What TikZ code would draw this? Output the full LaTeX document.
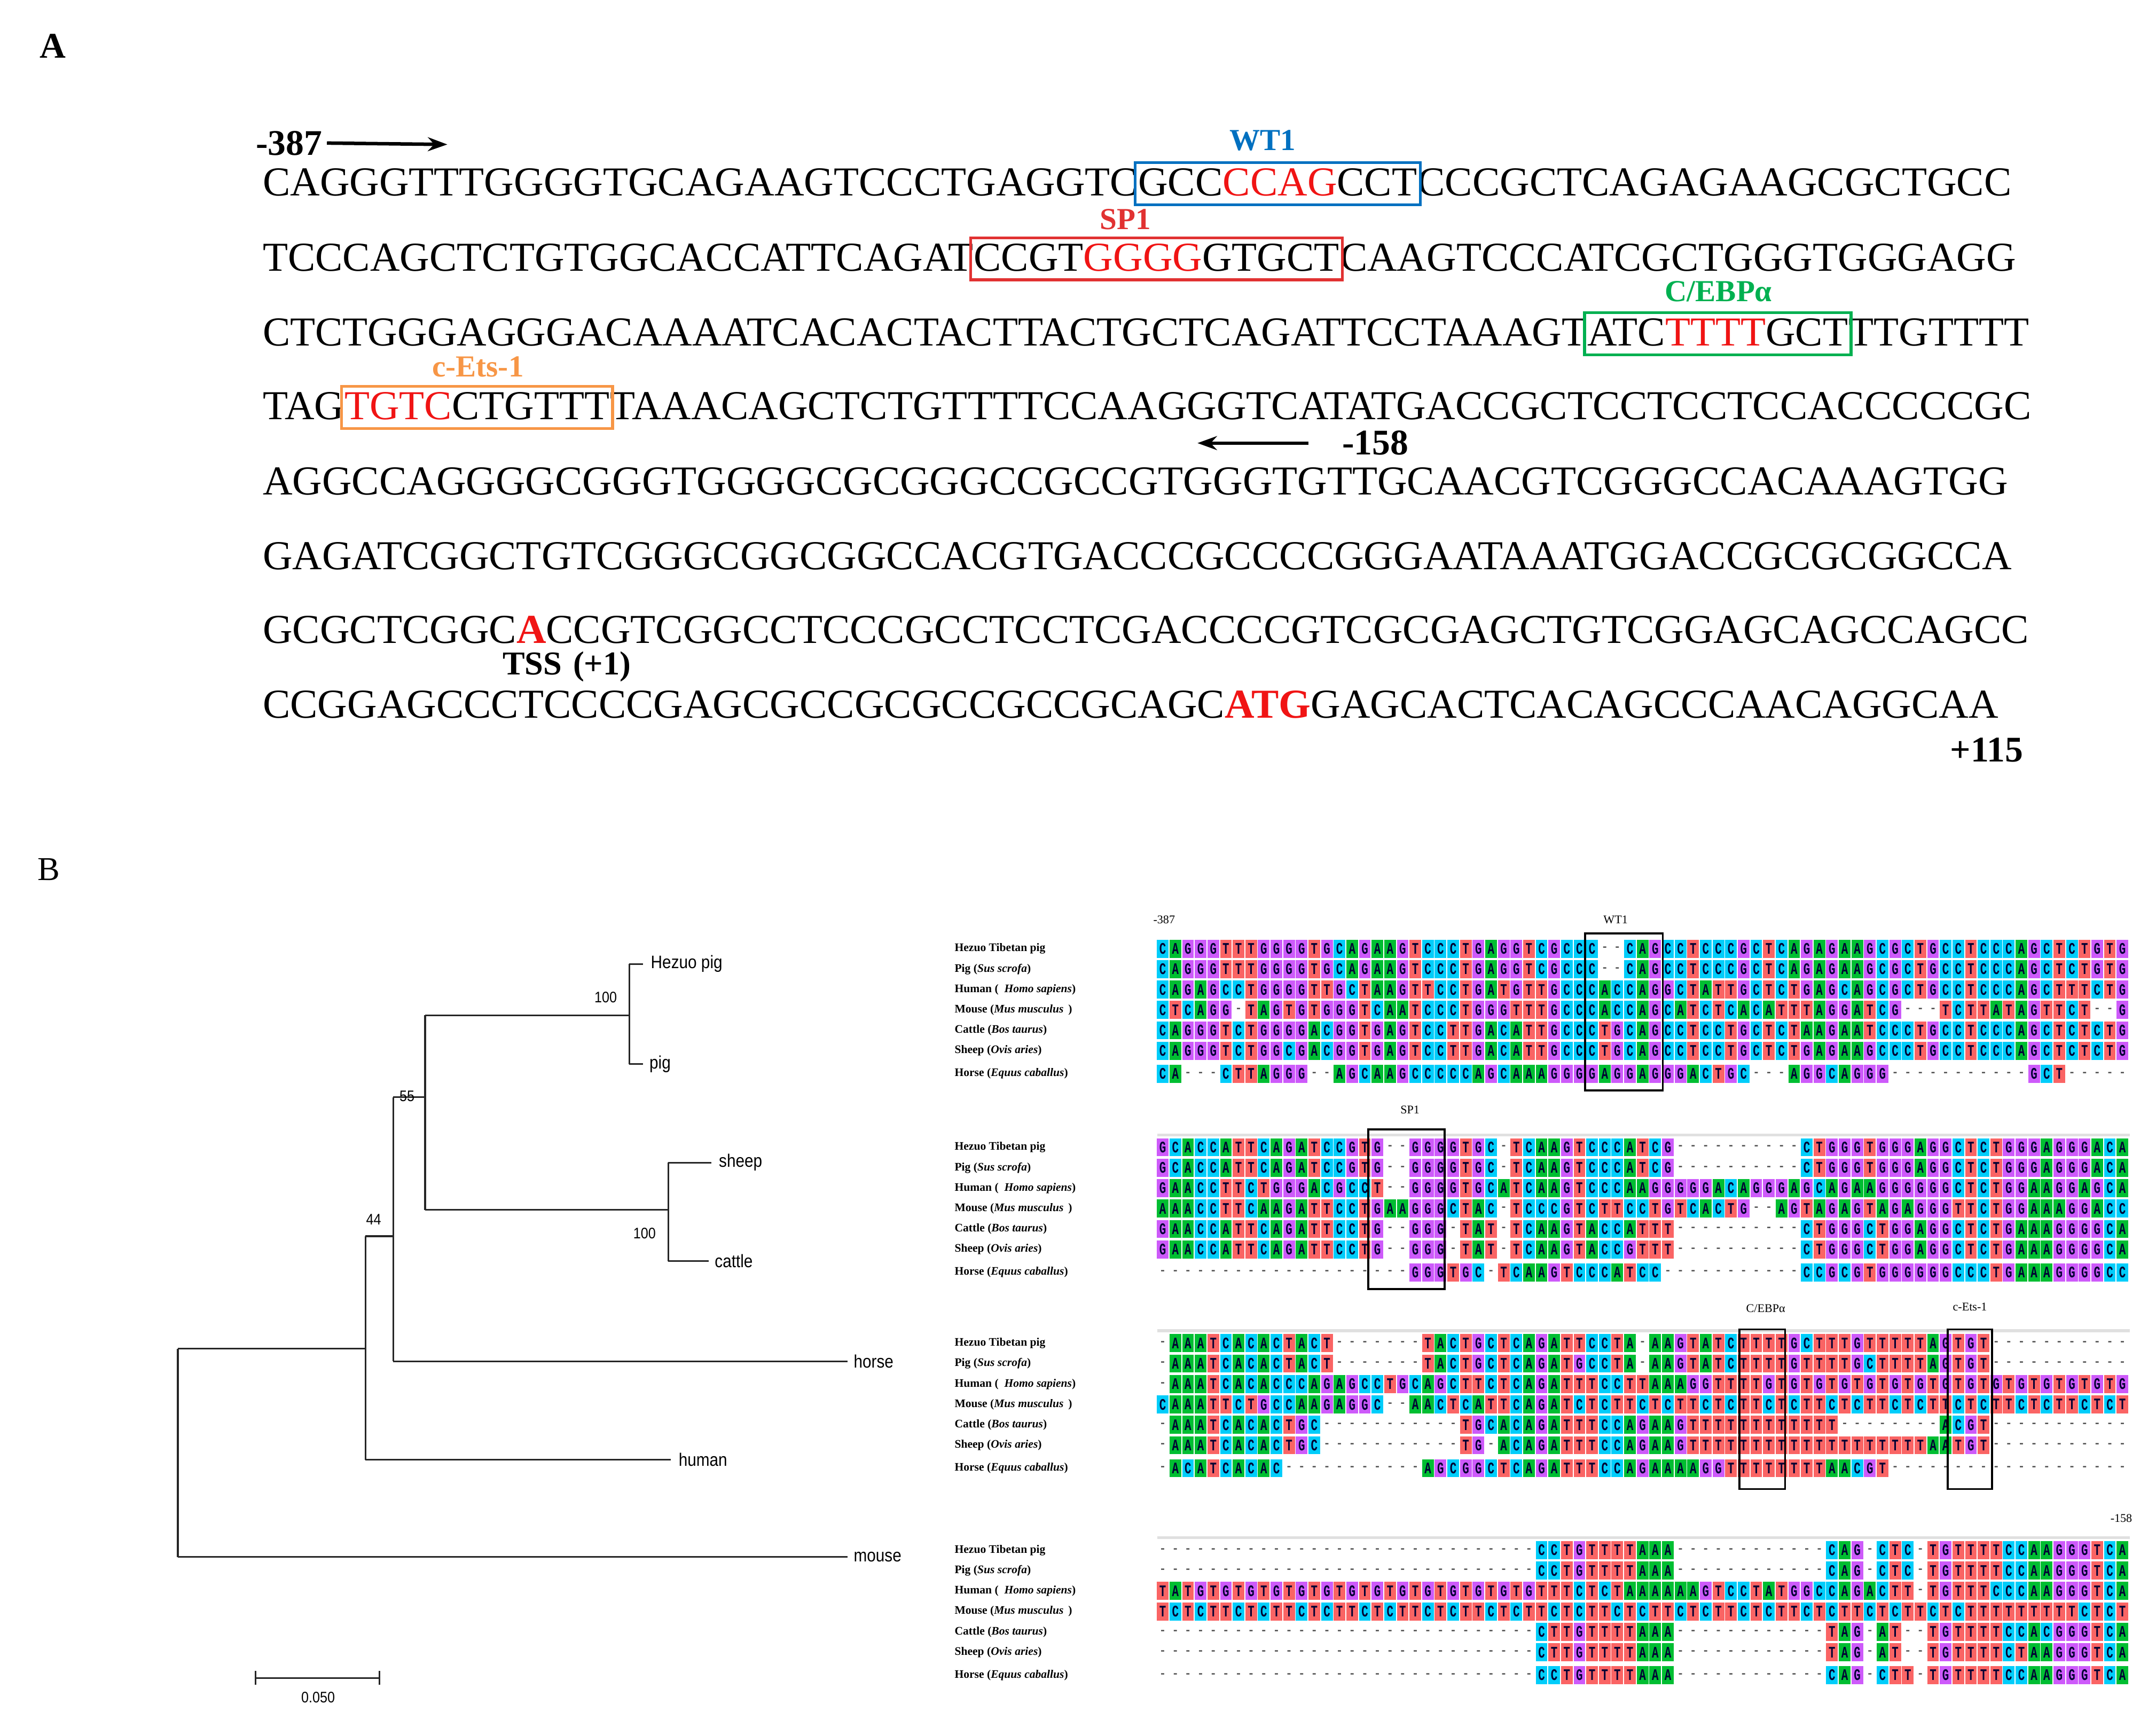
\documentclass[tikz,border=0pt]{standalone}
\usepackage{fontspec}
\setmainfont{Liberation Serif}
\newfontfamily\sansf{Liberation Sans}
\newfontfamily\monof{Liberation Mono}
\usetikzlibrary{calc,arrows.meta}
\definecolor{cA}{RGB}{0,190,50}
\definecolor{cC}{RGB}{0,205,250}
\definecolor{cG}{RGB}{205,90,250}
\definecolor{cT}{RGB}{250,100,100}
\definecolor{wtc}{RGB}{0,112,192}
\definecolor{spc}{RGB}{225,50,50}
\definecolor{cec}{RGB}{0,176,80}
\definecolor{etc}{RGB}{247,150,70}
\definecolor{redA}{RGB}{240,20,20}
\newcount\alncnt
\def\alnloop#1{\ifx#1\relax\else\alncell{#1}\advance\alncnt by 1 \expandafter\alnloop\fi}
\newcommand\alnrow[3]{\def\ax{#1}\def\ay{#2}\alncnt=0 \alnloop#3\relax}
\newcommand\alncell[1]{%
 \pgfmathsetmacro\cx{\ax+\the\alncnt*9.09}%
 \if#1-\node[gapch] at (\cx,\ay) {-};%
 \else\fill[c#1] (\cx-4.2,\ay-6.5) rectangle (\cx+4.2,\ay+6.5);\node[basech] at (\cx,\ay) {#1};\fi}
\begin{document}
\begin{tikzpicture}[x=1pt,y=1pt,
 seq/.style={font=\fontsize{29.6}{30}\selectfont, inner sep=0pt, anchor=base west},
 boxl/.style={line width=2pt},
 tflab/.style={font=\fontsize{22}{24}\selectfont\bfseries},
 bold/.style={font=\fontsize{26}{28}\selectfont\bfseries},
 basech/.style={inner sep=0pt, font=\monof\bfseries\fontsize{8}{8}\selectfont, text=black!80!blue, yscale=1.45},
 gapch/.style={inner sep=0pt, font=\monof\bfseries\fontsize{8}{8}\selectfont, text=black!70},
 rowlab/.style={inner sep=0pt, anchor=west, font=\fontsize{8.3}{9}\selectfont\bfseries},
 alab/.style={inner sep=0pt, font=\fontsize{8.5}{9}\selectfont},
 abox/.style={line width=1.4pt},
 tree/.style={line width=1.2pt, draw=black!85},
 tlab/.style={inner sep=0pt, anchor=west, font=\sansf\fontsize{13}{14}\selectfont, xscale=0.88},
 bs/.style={inner sep=0pt, font=\sansf\fontsize{11}{12}\selectfont, xscale=0.88}]
\useasboundingbox (0,0) rectangle (1552,-1238);
\fill[white] (0,0) rectangle (1552,-1238);
% ---------- Panel A ----------
\node[font=\fontsize{26}{28}\selectfont\bfseries] (pA) at (38,-33) {A};
\node[bold] (n387) at (208,-103) {-387};
\coordinate (a387) at (322,-104);
\draw[line width=2.5pt,-{Stealth[length=14pt,width=10pt]}] (n387.east) -- (a387);
\node[seq] (l1a) at (189,-141) {CAGGGTTTGGGGTGCAGAAGTCCCTGAGGTC};
\node[seq] (l1b) at (l1a.base east) {GCC\textcolor{redA}{CCAG}CCT};
\node[seq] (l1c) at (l1b.base east) {CCCGCTCAGAGAAGCGCTGCC};
\draw[boxl,wtc] ($(l1b.south west)+(-2,-6)$) rectangle ($(l1b.north east)+(2,4)$);
\node[tflab,text=wtc] (wt1) at (909,-101) {WT1};
\node[seq] (l2a) at (189,-195) {TCCCAGCTCTGTGGCACCATTCAGAT};
\node[seq] (l2b) at (l2a.base east) {CCGT\textcolor{redA}{GGGG}GTGCT};
\node[seq] (l2c) at (l2b.base east) {CAAGTCCCATCGCTGGGTGGGAGG};
\draw[boxl,spc] ($(l2b.south west)+(-2,-6)$) rectangle ($(l2b.north east)+(2,4)$);
\node[tflab,text=spc] (sp1) at (810,-158) {SP1};
\node[seq] (l3a) at (189,-249) {CTCTGGGAGGGACAAAATCACACTACTTACTGCTCAGATTCCTAAAGT};
\node[seq] (l3b) at (l3a.base east) {ATC\textcolor{redA}{TTTT}GCT};
\node[seq] (l3c) at (l3b.base east) {TTGTTTT};
\draw[boxl,cec] ($(l3b.south west)+(-2,-6)$) rectangle ($(l3b.north east)+(2,4)$);
\node[tflab,text=cec] (cebp) at (1237,-210) {C/EBPα};
\node[seq] (l4a) at (189,-302) {TAG};
\node[seq] (l4b) at (l4a.base east) {\textcolor{redA}{TGTC}CTGTTT};
\node[seq] (l4c) at (l4b.base east) {TAAACAGCTCTGTTTTCCAAGGGTCATATGACCGCTCCTCCTCCACCCCCGC};
\draw[boxl,etc] ($(l4b.south west)+(-2,-6)$) rectangle ($(l4b.north east)+(2,4)$);
\node[tflab,text=etc] (cets) at (344,-264) {c-Ets-1};
\node[bold] (n158) at (990,-319) {-158};
\coordinate (a158s) at (942,-319);
\coordinate (a158e) at (862,-319);
\draw[line width=2.5pt,-{Stealth[length=14pt,width=10pt]}] (a158s) -- (a158e);
\node[seq] (l5) at (189,-356) {AGGCCAGGGGCGGGTGGGGCGCGGGCCGCCGTGGGTGTTGCAACGTCGGGCCACAAAGTGG};
\node[seq] (l6) at (189,-410) {GAGATCGGCTGTCGGGCGGCGGCCACGTGACCCGCCCCGGGAATAAATGGACCGCGCGGCCA};
\node[seq] (l7) at (189,-463) {GCGCTCGGC\textcolor{redA}{\bfseries A}CCGTCGGCCTCCCGCCTCCTCGACCCCGTCGCGAGCTGTCGGAGCAGCCAGCC};
\node[font=\fontsize{24}{26}\selectfont\bfseries] (tss) at (408,-480) {TSS\,\,(+1)};
\node[seq] (l8) at (189,-517) {CCGGAGCCCTCCCCGAGCGCCGCGCCGCCGCAGC\textcolor{redA}{\bfseries ATG}GAGCACTCACAGCCCAACAGGCAA};
\node[bold] (n115) at (1430,-540) {+115};
% ---------- Panel B ----------
\node[font=\fontsize{24}{26}\selectfont] (pB) at (35,-626) {B};
\coordinate (r0) at (128,-971); \coordinate (r1) at (128,-1121);
\coordinate (hu) at (263,-971);
\draw[tree] (r0) -- (r1);
\draw[tree] (r1) -- (610,-1121) node[tlab] (tmouse) at (614,-1121) {mouse};
\draw[tree] (r0) -- (hu);
\draw[tree] (263,-890) -- (263,-1051);
\draw[tree] (263,-1051) -- (483,-1051) node[tlab] (thuman) at (488,-1051) {human};
\draw[tree] (263,-890) -- (283,-890);
\draw[tree] (283,-790) -- (283,-980);
\draw[tree] (283,-980) -- (610,-980) node[tlab] (thorse) at (614,-980) {horse};
\draw[tree] (283,-790) -- (306,-790);
\draw[tree] (306,-731) -- (306,-871);
\draw[tree] (306,-731) -- (453,-731);
\draw[tree] (453,-694) -- (453,-766);
\draw[tree] (453,-694) -- (463,-694) node[tlab] (thez) at (468,-694) {Hezuo pig};
\draw[tree] (453,-766) -- (463,-766) node[tlab] (tpig) at (467,-766) {pig};
\draw[tree] (306,-871) -- (481,-871);
\draw[tree] (481,-837) -- (481,-908);
\draw[tree] (481,-837) -- (512,-837) node[tlab] (tsheep) at (517,-837) {sheep};
\draw[tree] (481,-908) -- (510,-908) node[tlab] (tcattle) at (514,-908) {cattle};
\node[bs] (b44) at (269,-878) {44};
\node[bs] (b55) at (293,-789) {55};
\node[bs] (b100a) at (436,-718) {100};
\node[bs] (b100b) at (464,-888) {100};
\draw[tree] (184,-1208) -- (273,-1208);
\draw[tree] (184,-1203) -- (184,-1213);
\draw[tree] (273,-1203) -- (273,-1213);
\node[bs] (bscale) at (229,-1222) {0.050};
\foreach \b/\k in {683/1,826/2,967/3,1116/4}{
 \node[rowlab] (h\k) at (687,-\b) {Hezuo Tibetan pig};
 \node[rowlab] (p\k) at (687,-\b-14.7) {Pig (\textit{Sus scrofa})};
 \node[rowlab] (hm\k) at (687,-\b-29.4) {Human ( \ \textit{Homo sapiens})};
 \node[rowlab] (m\k) at (687,-\b-44.1) {Mouse (\textit{Mus musculus} \,)};
 \node[rowlab] (c\k) at (687,-\b-58.8) {Cattle (\textit{Bos taurus})};
 \node[rowlab] (s\k) at (687,-\b-73.5) {Sheep (\textit{Ovis aries})};
 \node[rowlab] (ho\k) at (687,-\b-90) {Horse (\textit{Equus caballus})};
}
\foreach \b in {826,967,1116}{\draw[black!12,line width=2pt] (833,-\b+9) -- (1533,-\b+9);}
\alnrow{837}{-683}{CAGGGTTTGGGGTGCAGAAGTCCCTGAGGTCGCCC--CAGCCTCCCGCTCAGAGAAGCGCTGCCTCCCAGCTCTGTG}
\alnrow{837}{-697.7}{CAGGGTTTGGGGTGCAGAAGTCCCTGAGGTCGCCC--CAGCCTCCCGCTCAGAGAAGCGCTGCCTCCCAGCTCTGTG}
\alnrow{837}{-712.4}{CAGAGCCTGGGGTTGCTAAGTTCCTGATGTTGCCCACCAGGCTATTGCTCTGAGCAGCGCTGCCTCCCAGCTTTCTG}
\alnrow{837}{-727.1}{CTCAGG-TAGTGTGGGTCAATCCCTGGGTTTGCCCACCAGCATCTCACATTTAGGATCG---TCTTATAGTTCT--G}
\alnrow{837}{-741.8}{CAGGGTCTGGGGACGGTGAGTCCTTGACATTGCCCTGCAGCCTCCTGCTCTAAGAATCCCTGCCTCCCAGCTCTCTG}
\alnrow{837}{-756.5}{CAGGGTCTGGCGACGGTGAGTCCTTGACATTGCCCTGCAGCCTCCTGCTCTGAGAAGCCCTGCCTCCCAGCTCTCTG}
\alnrow{837}{-773}{CA---CTTAGGG--AGCAAGCCCCCAGCAAAGGGGAGGAGGGACTGC---AGGCAGGG-----------GCT-----}
\alnrow{837}{-826}{GCACCATTCAGATCCGTG--GGGGTGC-TCAAGTCCCATCG----------CTGGGTGGGAGGCTCTGGGAGGGACA}
\alnrow{837}{-840.7}{GCACCATTCAGATCCGTG--GGGGTGC-TCAAGTCCCATCG----------CTGGGTGGGAGGCTCTGGGAGGGACA}
\alnrow{837}{-855.4}{GAACCTTCTGGGACGCCT--GGGGTGCATCAAGTCCCAAGGGGGACAGGGAGCAGAAGGGGGGCTCTGGAAGGAGCA}
\alnrow{837}{-870.1}{AAACCTTCAAGATTCCTGAAGGGCTAC-TCCCGTCTTCCTGTCACTG--AGTAGAGTAGAGGGTTCTGGAAAGGACC}
\alnrow{837}{-884.8}{GAACCATTCAGATTCCTG--GGG-TAT-TCAAGTACCATTT----------CTGGGCTGGAGGCTCTGAAAGGGGCA}
\alnrow{837}{-899.5}{GAACCATTCAGATTCCTG--GGG-TAT-TCAAGTACCGTTT----------CTGGGCTGGAGGCTCTGAAAGGGGCA}
\alnrow{837}{-916}{--------------------GGGTGC-TCAAGTCCCATCC-----------CCGCGTGGGGGGCCCTGAAAGGGGCC}
\alnrow{837}{-967}{-AAATCACACTACT-------TACTGCTCAGATTCCTA-AAGTATCTTTTGCTTTGTTTTTAGTGT-----------}
\alnrow{837}{-981.7}{-AAATCACACTACT-------TACTGCTCAGATGCCTA-AAGTATCTTTTGTTTTGCTTTTAGTGT-----------}
\alnrow{837}{-996.4}{-AAATCACACCCAGAGCCTGCAGCTTCTCAGATTTCCTTAAAGGTTTTGTGTGTGTGTGTGTGTGTGTGTGTGTGTG}
\alnrow{837}{-1011.1}{CAAATTCTGCCAAGAGGC--AACTCATTCAGATCTCTTCTCTTCTCTTCTCTTCTCTTCTCTTCTCTTCTCTTCTCT}
\alnrow{837}{-1025.8}{-AAATCACACTGC-----------TGCACAGATTTCCAGAAGTTTTTTTTTTTT--------ACGT-----------}
\alnrow{837}{-1040.5}{-AAATCACACTGC-----------TG-ACAGATTTCCAGAAGTTTTTTTTTTTTTTTTTTTAATGT-----------}
\alnrow{837}{-1057}{-ACATCACAC-----------AGCGGCTCAGATTTCCAGAAAAGGTTTTTTTTAACGT-------------------}
\alnrow{837}{-1116}{------------------------------CCTGTTTTAAA------------CAG-CTC-TGTTTTCCAAGGGTCA}
\alnrow{837}{-1130.7}{------------------------------CCTGTTTTAAA------------CAG-CTC-TGTTTTCCAAGGGTCA}
\alnrow{837}{-1145.4}{TATGTGTGTGTGTGTGTGTGTGTGTGTGTGTTTCTCTAAAAAAGTCCTATGGCCAGACTT-TGTTTCCCAAGGGTCA}
\alnrow{837}{-1160.1}{TCTCTTCTCTTCTCTTCTCTTCTCTTCTCTTCTCTTCTCTTCTCTTCTCTTCTCTTCTCTTCTCTTTTTTTTTCTCT}
\alnrow{837}{-1174.8}{------------------------------CTTGTTTTAAA------------TAG-AT--TGTTTTCCACGGGTCA}
\alnrow{837}{-1189.5}{------------------------------CTTGTTTTAAA------------TAG-AT--TGTTTTCTAAGGGTCA}
\alnrow{837}{-1206}{------------------------------CCTGTTTTAAA------------CAG-CTT-TGTTTTCCAAGGGTCA}
\draw[abox] (1141,-672) rectangle (1197,-785);
\draw[abox] (985,-813) rectangle (1040,-928);
\draw[abox] (1252,-957) rectangle (1285,-1072);
\draw[abox] (1402,-957) rectangle (1434,-1072);
\node[alab] (q387) at (838,-662) {-387};
\node[alab] (qwt) at (1163,-662) {WT1};
\node[alab] (qsp) at (1015,-799) {SP1};
\node[alab] (qce) at (1271,-942) {C/EBPα};
\node[alab] (qet) at (1418,-941) {c-Ets-1};
\node[alab] (q158) at (1527,-1093) {-158};
\end{tikzpicture}
\end{document}
